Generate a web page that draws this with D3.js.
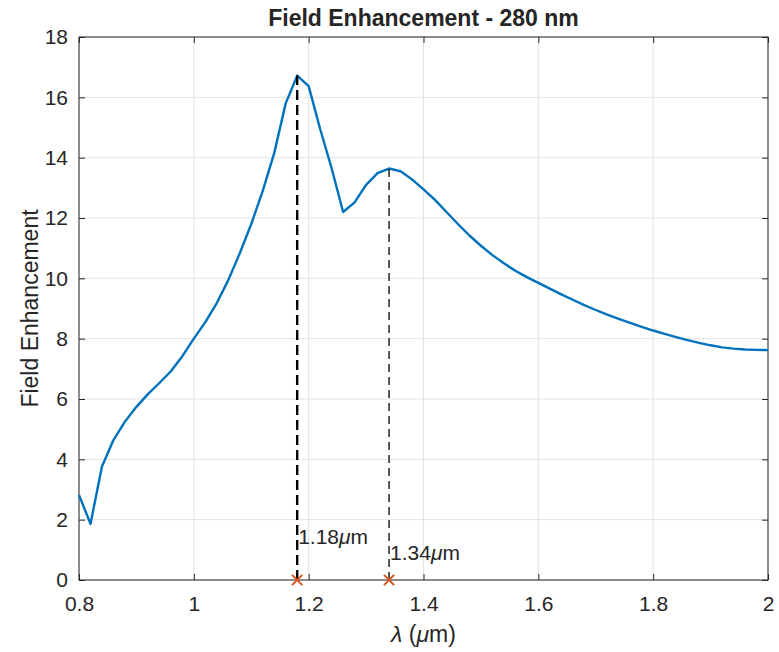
<!DOCTYPE html>
<meta charset="utf-8">
<title>Field Enhancement - 280 nm</title>
<style>
  body { margin: 0; background: #fff; }
  text { font-family: "Liberation Sans", Arial, Helvetica, sans-serif; fill: #262626; }
</style>
<body>
<svg id="chart" width="779" height="652"></svg>
<script src="https://d3js.org/d3.v7.min.js"></script>
<script>

// wavelength (um) and field enhancement
var lambda = [0.80, 0.82, 0.84, 0.86, 0.88, 0.90, 0.92, 0.94, 0.96, 0.98,
              1.00, 1.02, 1.04, 1.06, 1.08, 1.10, 1.12, 1.14, 1.16, 1.18,
              1.20, 1.22, 1.24, 1.26, 1.28, 1.30, 1.32, 1.34, 1.36, 1.38,
              1.40, 1.42, 1.44, 1.46, 1.48, 1.50, 1.52, 1.54, 1.56, 1.58,
              1.60, 1.62, 1.64, 1.66, 1.68, 1.70, 1.72, 1.74, 1.76, 1.78,
              1.80, 1.82, 1.84, 1.86, 1.88, 1.90, 1.92, 1.94, 1.96, 1.98, 2.00];
var enhancement = [2.82, 1.86, 3.76, 4.64, 5.25, 5.74, 6.16, 6.53, 6.92, 7.42,
                   8.00, 8.55, 9.18, 9.94, 10.83, 11.80, 12.90, 14.15, 15.80, 16.72,
                   16.37, 14.95, 13.65, 12.20, 12.52, 13.10, 13.49, 13.64, 13.55, 13.28,
                   12.95, 12.60, 12.20, 11.80, 11.42, 11.08, 10.77, 10.50, 10.25, 10.04,
                   9.85, 9.66, 9.47, 9.29, 9.11, 8.95, 8.80, 8.66, 8.52, 8.39,
                   8.27, 8.16, 8.05, 7.95, 7.86, 7.78, 7.71, 7.67, 7.64, 7.63, 7.62];

// resonance peaks
var peakLambda = [1.18, 1.34];
var peakValue  = [16.72, 13.64];
var peakLabel  = ["1.18", "1.34"];
var labelY     = [1.40, 0.86];   // where the text sits (data units)
var peakWidth  = [2.4, 1.3];

var xTicks = [0.8, 1, 1.2, 1.4, 1.6, 1.8, 2];
var yTicks = [0, 2, 4, 6, 8, 10, 12, 14, 16, 18];

var margin = {left: 79, right: 11, top: 37, bottom: 72},
    width = 779 - margin.left - margin.right,
    height = 652 - margin.top - margin.bottom;

var axisColor = "#262626",
    gridColor = "#e3e3e3",
    lineColor = "#0072bd",
    markColor = "#d95319";

var svg = d3.select("#chart");
var g = svg.append("g")
    .attr("transform", "translate(" + margin.left + "," + margin.top + ")");

var x = d3.scaleLinear().domain([0.8, 2]).range([0, width]);
var y = d3.scaleLinear().domain([0, 18]).range([height, 0]);

// grid
g.append("g").selectAll("line")
  .data(xTicks).enter().append("line")
    .attr("x1", d => x(d)).attr("x2", d => x(d))
    .attr("y1", 0).attr("y2", height)
    .attr("stroke", gridColor).attr("stroke-width", 1);
g.append("g").selectAll("line")
  .data(yTicks).enter().append("line")
    .attr("x1", 0).attr("x2", width)
    .attr("y1", d => y(d)).attr("y2", d => y(d))
    .attr("stroke", gridColor).attr("stroke-width", 1);

// axes (ticks pointing inward, box on)
function styleAxis(sel) {
  sel.select(".domain").remove();
  sel.selectAll(".tick line").attr("stroke", axisColor);
  sel.selectAll(".tick text")
    .style("font-size", "21px")
    .attr("fill", axisColor);
}

g.append("g")
    .attr("transform", "translate(0," + height + ")")
    .call(d3.axisBottom(x).tickValues(xTicks).tickSize(-6).tickPadding(16).tickFormat(d3.format("")))
    .call(styleAxis);
g.append("g")
    .call(d3.axisTop(x).tickValues(xTicks).tickSize(-6).tickFormat(""))
    .call(styleAxis);
g.append("g")
    .call(d3.axisLeft(y).tickValues(yTicks).tickSize(-6).tickPadding(11))
    .call(styleAxis);
g.append("g")
    .attr("transform", "translate(" + width + ",0)")
    .call(d3.axisRight(y).tickValues(yTicks).tickSize(-6).tickFormat(""))
    .call(styleAxis);

g.append("rect")
    .attr("width", width).attr("height", height)
    .attr("fill", "none").attr("stroke", axisColor).attr("stroke-width", 1);

// main curve
var data = lambda.map((l, i) => ({x: l, y: enhancement[i]}));
g.append("path")
    .datum(data)
    .attr("fill", "none")
    .attr("stroke", lineColor)
    .attr("stroke-width", 2.4)
    .attr("stroke-linejoin", "round")
    .attr("d", d3.line().x(d => x(d.x)).y(d => y(d.y)));

// dashed markers at the peaks
var peaks = peakLambda.map((l, i) => ({x: l, v: peakValue[i], label: peakLabel[i], ly: labelY[i], w: peakWidth[i]}));

g.append("g").selectAll("line")
  .data(peaks).enter().append("line")
    .attr("x1", d => x(d.x)).attr("x2", d => x(d.x))
    .attr("y1", y(0)).attr("y2", d => y(d.v))
    .attr("stroke", "#000")
    .attr("stroke-width", d => d.w)
    .attr("stroke-dasharray", d => d.w > 2 ? "10,5" : "8,5");

var cross = d3.symbol().type(d3.symbolX).size(70);
g.append("g").selectAll("path")
  .data(peaks).enter().append("path")
    .attr("transform", d => "translate(" + x(d.x) + "," + y(0) + ")")
    .attr("d", cross)
    .attr("fill", "none")
    .attr("stroke", markColor)
    .attr("stroke-width", 2);

var lab = g.append("g").selectAll("text")
  .data(peaks).enter().append("text")
    .attr("x", d => x(d.x) + 1)
    .attr("y", d => y(d.ly))
    .attr("dominant-baseline", "middle")
    .style("font-size", "21px")
    .attr("fill", "#000");
lab.append("tspan").text(d => d.label);
lab.append("tspan").style("font-style", "italic").text("\u03bc");
lab.append("tspan").text("m");

// title and axis labels
svg.append("text")
    .attr("x", margin.left + width / 2)
    .attr("y", 26)
    .attr("text-anchor", "middle")
    .style("font-size", "23px")
    .style("font-weight", "bold")
    .attr("fill", "#000")
    .text("Field Enhancement - 280 nm");

var xl = svg.append("text")
    .attr("x", margin.left + width / 2)
    .attr("y", 642)
    .attr("text-anchor", "middle")
    .style("font-size", "23px");
xl.append("tspan").style("font-style", "italic").text("\u03bb");
xl.append("tspan").text(" (");
xl.append("tspan").style("font-style", "italic").text("\u03bc");
xl.append("tspan").text("m)");

svg.append("text")
    .attr("transform", "translate(38," + (margin.top + height / 2) + ") rotate(-90)")
    .attr("text-anchor", "middle")
    .style("font-size", "23px")
    .text("Field Enhancement");

</script>
</body>
